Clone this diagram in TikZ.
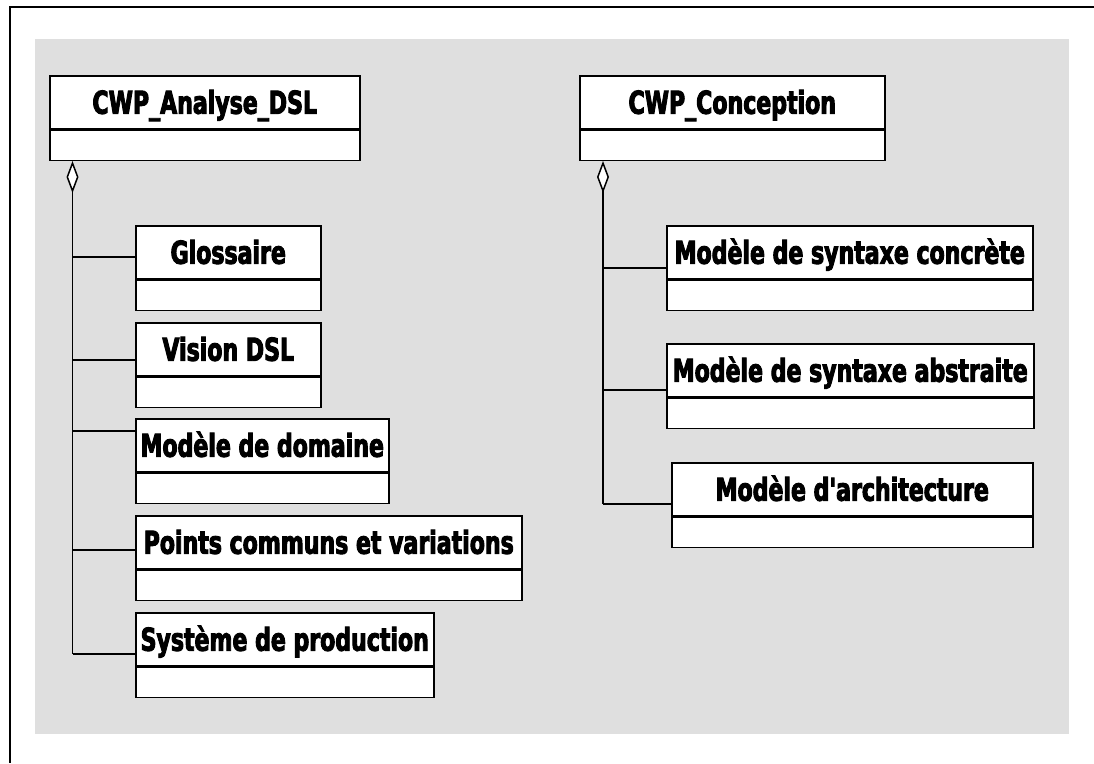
\documentclass[tikz,border=0pt]{standalone}
\usepackage{fontspec}
\usetikzlibrary{arrows.meta}
\newfontfamily\umlfont{DejaVu Sans}[FakeStretch=0.70,FakeBold=3,Ligatures=TeXOff]
\definecolor{bggrey}{RGB}{223,223,223}

\begin{document}
\begin{tikzpicture}
                [x=1pt,y=-1pt,
                cls/.style={draw,fill=white,line width=1.5pt,inner sep=0pt,anchor=north west,
                  minimum height=53pt,text height=23pt,text depth=0pt,
                  font=\umlfont\bfseries\fontsize{31.5}{38}\selectfont},
                att/.style={draw,fill=white,line width=1.5pt,inner sep=0pt,anchor=north,minimum height=30pt},
                link/.style={line width=1.5pt},
                agg/.style={link,{Diamond[fill=white,length=32pt,width=12pt]}-}]
                \useasboundingbox (0,0) rectangle (1094,763);
                \fill[bggrey] (35,39) rectangle (1069,734);
                \draw[line width=2.5pt] (1094,7) -- (10,7) -- (10,763);
                % analyse
                \node[cls,minimum width=310pt] (ana) at (49,75) {CWP\_Analyse\_DSL};
                \node[att,minimum width=310pt] (ana-att) at (ana.south) {};
                \node[cls,minimum width=185pt] (glos) at (135,225) {Glossaire};
                \node[att,minimum width=185pt] (glos-att) at (glos.south) {};
                \node[cls,minimum width=185pt] (vis) at (135,322) {Vision DSL};
                \node[att,minimum width=185pt] (vis-att) at (vis.south) {};
                \node[cls,minimum width=253pt] (dom) at (135,418) {Modèle de domaine};
                \node[att,minimum width=253pt] (dom-att) at (dom.south) {};
                \node[cls,minimum width=386pt] (pts) at (135,515) {Points communs et variations};
                \node[att,minimum width=386pt] (pts-att) at (pts.south) {};
                \node[cls,minimum width=298pt] (sys) at (135,612) {Système de production};
                \node[att,minimum width=298pt] (sys-att) at (sys.south) {};
                % conception
                \node[cls,minimum width=305pt] (con) at (579,75) {CWP\_Conception};
                \node[att,minimum width=305pt] (con-att) at (con.south) {};
                \node[cls,minimum width=366pt] (ccr) at (666,225) {Modèle de syntaxe concrète};
                \node[att,minimum width=366pt] (ccr-att) at (ccr.south) {};
                \node[cls,minimum width=367pt] (abs) at (666,343) {Modèle de syntaxe abstraite};
                \node[att,minimum width=367pt] (abs-att) at (abs.south) {};
                \node[cls,minimum width=361pt] (arc) at (671,462) {Modèle d'architecture};
                \node[att,minimum width=361pt] (arc-att) at (arc.south) {};
                \coordinate (ana-root) at ([xshift=23.5pt]ana-att.south west);
                \coordinate (con-root) at ([xshift=24pt]con-att.south west);
                \foreach \n/\s in {glos/-4.5,vis/-10.5,dom/14.5,pts/-7.5,sys/-14.5}{
                  \coordinate (\n-in) at ([yshift=\s pt]\n.west);
                  \draw[link] (ana-root |- \n-in) -- (\n-in);
                }
                \foreach \n/\s in {ccr/-15.5,abs/-19.5,arc/-14.5}{
                  \coordinate (\n-in) at ([yshift=\s pt]\n.west);
                  \draw[link] (con-root |- \n-in) -- (\n-in);
                }
                \draw[agg] (ana-root) -- (ana-root |- sys-in);
                \draw[agg] (con-root) -- (con-root |- arc-in);
            \end{tikzpicture}
\end{document}
